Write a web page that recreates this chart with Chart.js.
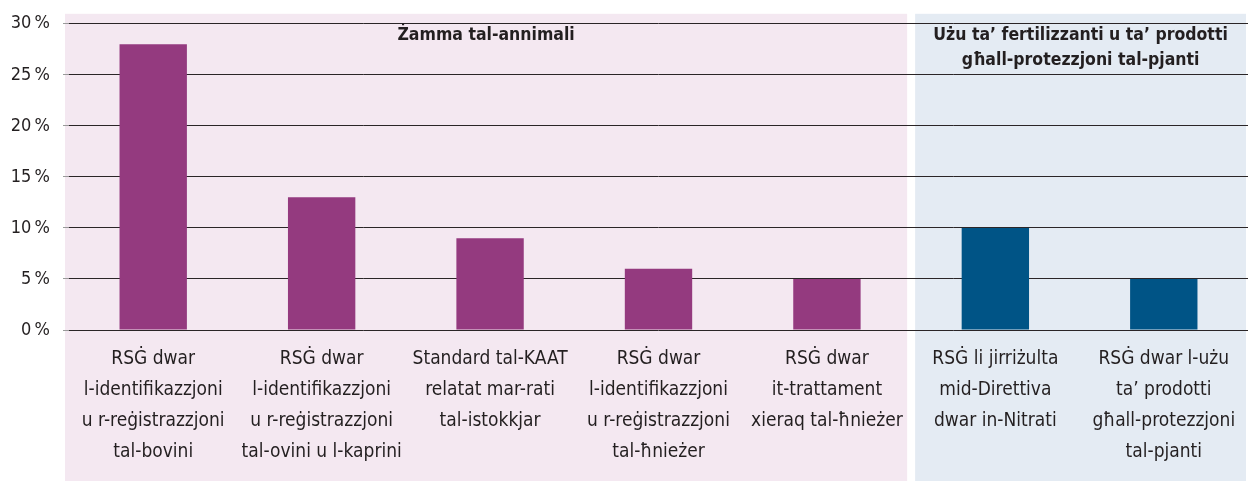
<!DOCTYPE html>
<html>
<head>
<meta charset="utf-8">
<script src="https://cdn.jsdelivr.net/npm/chart.js@4"></script>
<style>
  html, body { margin: 0; padding: 0; background: #fff; }
  #wrap { width: 1249px; height: 481px; position: relative; }
</style>
</head>
<body>
<div id="wrap"><canvas id="chart"></canvas></div>
<script>
// data
const categories = [
  ['RSĠ dwar', 'l-identifikazzjoni', 'u r-reġistrazzjoni', 'tal-bovini'],
  ['RSĠ dwar', 'l-identifikazzjoni', 'u r-reġistrazzjoni', 'tal-ovini u l-kaprini'],
  ['Standard tal-KAAT', 'relatat mar-rati', 'tal-istokkjar'],
  ['RSĠ dwar', 'l-identifikazzjoni', 'u r-reġistrazzjoni', 'tal-ħnieżer'],
  ['RSĠ dwar', 'it-trattament', 'xieraq tal-ħnieżer'],
  ['RSĠ li jirriżulta', 'mid-Direttiva', 'dwar in-Nitrati'],
  ['RSĠ dwar l-użu', 'ta’ prodotti', 'għall-protezzjoni', 'tal-pjanti']
];
const values = [28, 13, 9, 6, 5, 10, 5];
const groupTitles = [
  ['Żamma tal-annimali'],
  ['Użu ta’ fertilizzanti u ta’ prodotti', 'għall-protezzjoni tal-pjanti']
];
const groupSizes = [5, 2];
const yTicks = [0, 5, 10, 15, 20, 25, 30];

const barColors = ['#943a7f', '#005486'];
const bgColors = ['#f4e8f1', '#e4ebf3'];
const fontFam = '"Liberation Sans Narrow", "DejaVu Sans Condensed", sans-serif';
const textColor = '#231f20';

// which group each bar is in
const groupOf = [];
groupSizes.forEach((n, g) => { for (let i = 0; i < n; i++) groupOf.push(g); });

function groupBounds(chart, start, n, g) {
  const x = chart.scales.x;
  const area = chart.chartArea;
  const step = x.getPixelForValue(1) - x.getPixelForValue(0);
  let left = x.getPixelForValue(start) - step / 2;
  let right = x.getPixelForValue(start + n - 1) + step / 2;
  left = g === 0 ? area.left - 4 : left + 4;
  right = g === groupSizes.length - 1 ? area.right - 2 : right - 4;
  return [left, right];
}

// shaded panels + group titles
const panels = {
  id: 'panels',
  beforeDraw(chart) {
    const ctx = chart.ctx;
    const area = chart.chartArea;
    let start = 0;
    ctx.save();
    groupSizes.forEach((n, g) => {
      const [left, right] = groupBounds(chart, start, n, g);
      ctx.fillStyle = bgColors[g];
      ctx.fillRect(left, area.top - 10, right - left, chart.height - (area.top - 10));
      start += n;
    });
    ctx.restore();
  },
  afterDatasetsDraw(chart) {
    const ctx = chart.ctx;
    const area = chart.chartArea;
    let start = 0;
    ctx.save();
    ctx.font = 'bold 17.5px ' + fontFam;
    ctx.fillStyle = textColor;
    ctx.textAlign = 'center';
    ctx.textBaseline = 'middle';
    groupSizes.forEach((n, g) => {
      const [left, right] = groupBounds(chart, start, n, g);
      const cx = (left + right) / 2;
      groupTitles[g].forEach((line, i) => {
        ctx.fillText(line, cx, area.top + 12 + i * 25);
      });
      start += n;
    });
    ctx.restore();
  }
};

new Chart(document.getElementById('chart'), {
  type: 'bar',
  data: {
    labels: categories,
    datasets: [{
      data: values,
      backgroundColor: groupOf.map(g => barColors[g]),
      categoryPercentage: 1,
      barPercentage: 0.4
    }]
  },
  options: {
    responsive: true,
    maintainAspectRatio: false,
    animation: false,
    layout: { padding: { top: 23, right: 1, left: 0, bottom: 0 } },
    plugins: {
      legend: { display: false },
      tooltip: { enabled: false }
    },
    scales: {
      x: {
        grid: { display: false },
        border: { display: false },
        ticks: {
          color: textColor,
          font: { family: fontFam, size: 19, lineHeight: 1.64 },
          maxRotation: 0,
          autoSkip: false,
          padding: 5
        },
        afterFit(scale) { scale.height = 151; }
      },
      y: {
        min: 0,
        max: 30,
        afterBuildTicks(scale) { scale.ticks = yTicks.map(v => ({ value: v })); },
        grid: {
          color: '#2a2527',
          lineWidth: 1,
          tickLength: 6,
          tickColor: '#9a9a9a'
        },
        border: { display: false },
        ticks: {
          color: textColor,
          font: { family: fontFam, size: 18 },
          padding: 13,
          callback: v => v + '\u202F%'
        },
        afterFit(scale) { scale.width = 69; }
      }
    }
  },
  plugins: [panels]
});
</script>
</body>
</html>
